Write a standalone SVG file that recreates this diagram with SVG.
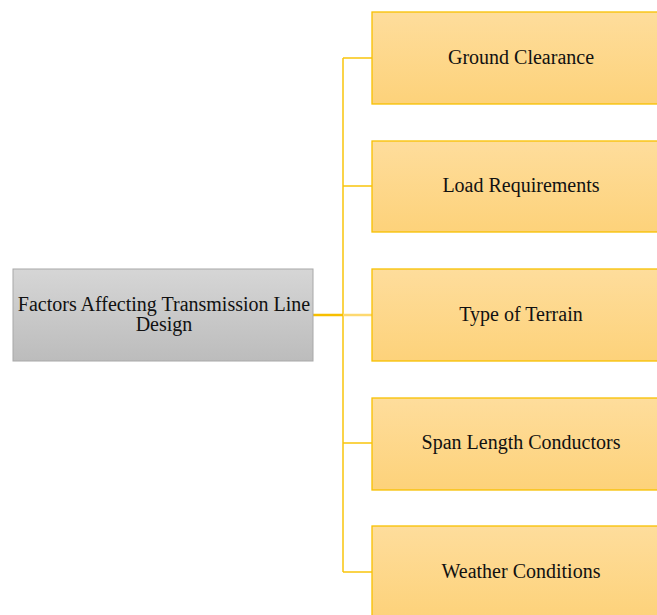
<svg xmlns="http://www.w3.org/2000/svg" width="657" height="615" viewBox="0 0 657 615">
<defs>
<linearGradient id="gy" x1="0" y1="0" x2="0" y2="1"><stop offset="0" stop-color="#fedd9c"/><stop offset="1" stop-color="#fdd27a"/></linearGradient>
<linearGradient id="gg" x1="0" y1="0" x2="0" y2="1"><stop offset="0" stop-color="#d6d6d6"/><stop offset="1" stop-color="#bcbcbc"/></linearGradient>
</defs>
<style>
.b{fill:url(#gy);stroke:#f7c100;stroke-width:1.3}
.m{fill:url(#gg);stroke:#a8a8a8;stroke-width:1}
text{font-family:"Liberation Serif","Times New Roman",serif;font-size:20px;fill:#111;text-anchor:middle;dominant-baseline:central}
.c{fill:none;stroke:#f9c50c;stroke-width:1.5}
</style>
<g id="connectors">
<path class="c" d="M343 58H372M343 186H372M343 443H372M343 572H372M343 58V572"/>
<path d="M313 315H343" stroke="#f7bf00" stroke-width="2.5" fill="none"/>
<path d="M343 315H372" stroke="#fdd971" stroke-width="2.5" fill="none"/>
</g>
<g id="main"><rect class="m" x="13" y="269" width="300" height="92"/><text x="164" y="304">Factors Affecting Transmission Line</text><text x="164" y="324">Design</text></g>
<g id="n1"><rect class="b" x="372" y="12" width="298" height="92"/><text x="521" y="57">Ground Clearance</text></g>
<g id="n2"><rect class="b" x="372" y="141" width="298" height="91"/><text x="521" y="185">Load Requirements</text></g>
<g id="n3"><rect class="b" x="372" y="269" width="298" height="92"/><text x="521" y="314">Type of Terrain</text></g>
<g id="n4"><rect class="b" x="372" y="398" width="298" height="92"/><text x="521" y="442">Span Length Conductors</text></g>
<g id="n5"><rect class="b" x="372" y="526" width="298" height="92"/><text x="521" y="571">Weather Conditions</text></g>
</svg>
